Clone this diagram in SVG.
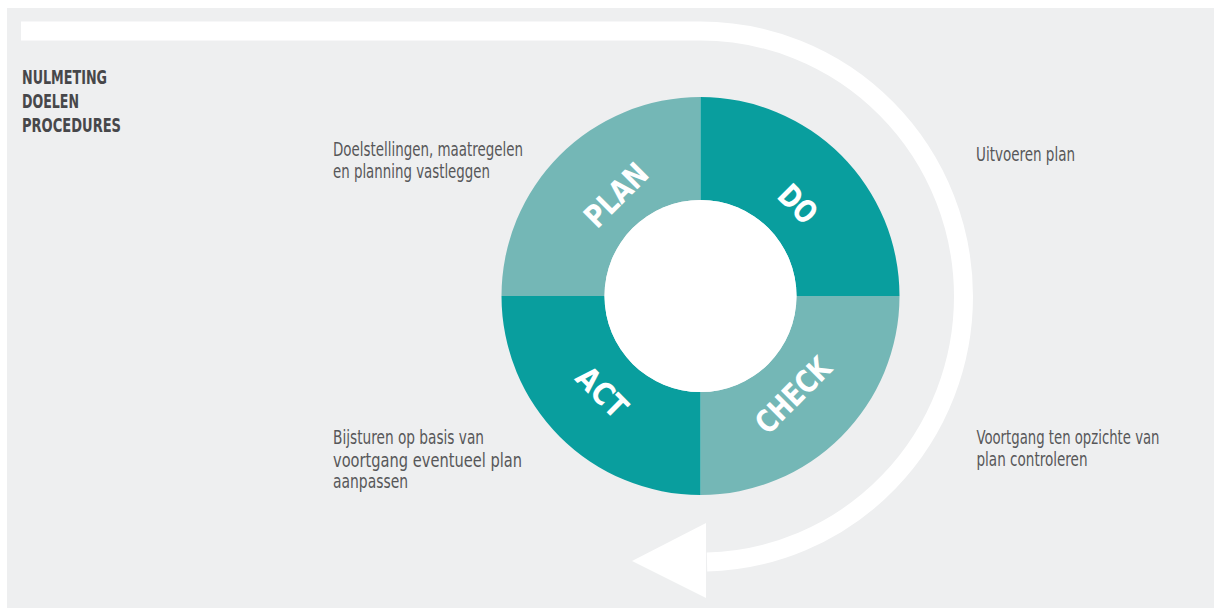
<svg xmlns="http://www.w3.org/2000/svg" width="1214" height="608" viewBox="0 0 1214 608">
  <style>
    .body { font-family: "Liberation Sans Narrow", "DejaVu Sans Condensed", "Liberation Sans", sans-serif; font-stretch: condensed; font-size: 19px; fill: #575759; }
    .head { font-family: "Liberation Sans Narrow", "DejaVu Sans Condensed", "Liberation Sans", sans-serif; font-stretch: condensed; font-size: 19px; font-weight: bold; fill: #47474a; }
    .ring { font-family: "Liberation Sans Narrow", "DejaVu Sans Condensed", "Liberation Sans", sans-serif; font-stretch: condensed; font-size: 31px; font-weight: bold; fill: #ffffff; text-anchor: middle; }
    .light { fill: #74b7b6; }
    .dark { fill: #099e9e; }
  </style>
  <rect x="0" y="0" width="1214" height="608" fill="#ffffff"/>
  <rect x="7" y="8" width="1207" height="600" fill="#eeeff0"/>

  <g id="connectors">
    <path d="M21,31 H700.5 A263,265.5 0 0 1 963.5,296.5 A263,265.5 0 0 1 707,562" fill="none" stroke="#ffffff" stroke-width="19"/>
    <polygon points="706,523 706,598 632,561" fill="#ffffff"/>
  </g>

  <g id="intro">
    <text class="head" x="22" y="83.5" textLength="85" lengthAdjust="spacingAndGlyphs">NULMETING</text>
    <text class="head" x="22" y="107.5" textLength="57" lengthAdjust="spacingAndGlyphs">DOELEN</text>
    <text class="head" x="22" y="131.5" textLength="99" lengthAdjust="spacingAndGlyphs">PROCEDURES</text>
  </g>

  <g id="plan">
    <path class="light" d="M700.5,97 V200 A96,96 0 0 0 604.5,296 H501.5 A199,199 0 0 1 700.5,97 Z"/>
    <g transform="translate(616,195) rotate(-45)">
      <text class="ring" x="0" y="11" textLength="76" lengthAdjust="spacingAndGlyphs">PLAN</text>
    </g>
    <text class="body" x="333" y="156" textLength="190" lengthAdjust="spacingAndGlyphs">Doelstellingen, maatregelen</text>
    <text class="body" x="333" y="177.5" textLength="157" lengthAdjust="spacingAndGlyphs">en planning vastleggen</text>
  </g>

  <g id="do">
    <path class="dark" d="M700.5,97 A199,199 0 0 1 899.5,296 H796.5 A96,96 0 0 0 700.5,200 Z"/>
    <g transform="translate(798,204) rotate(45)">
      <text class="ring" x="0" y="11" textLength="41" lengthAdjust="spacingAndGlyphs">DO</text>
    </g>
    <text class="body" x="976" y="160.5" textLength="99" lengthAdjust="spacingAndGlyphs">Uitvoeren plan</text>
  </g>

  <g id="check">
    <path class="light" d="M899.5,296 A199,199 0 0 1 700.5,495 V392 A96,96 0 0 0 796.5,296 Z"/>
    <g transform="translate(793,395) rotate(-45)">
      <text class="ring" x="0" y="11" textLength="93" lengthAdjust="spacingAndGlyphs">CHECK</text>
    </g>
    <text class="body" x="976.5" y="444" textLength="183" lengthAdjust="spacingAndGlyphs">Voortgang ten opzichte van</text>
    <text class="body" x="976.5" y="465.5" textLength="111" lengthAdjust="spacingAndGlyphs">plan controleren</text>
  </g>

  <g id="act">
    <path class="dark" d="M700.5,495 A199,199 0 0 1 501.5,296 H604.5 A96,96 0 0 0 700.5,392 Z"/>
    <g transform="translate(602,392) rotate(45)">
      <text class="ring" x="0" y="11" textLength="58" lengthAdjust="spacingAndGlyphs">ACT</text>
    </g>
    <text class="body" x="333" y="444" textLength="151" lengthAdjust="spacingAndGlyphs">Bijsturen op basis van</text>
    <text class="body" x="333" y="466.5" textLength="189" lengthAdjust="spacingAndGlyphs">voortgang eventueel plan</text>
    <text class="body" x="333" y="488" textLength="75" lengthAdjust="spacingAndGlyphs">aanpassen</text>
  </g>

  <circle id="hub" cx="700.5" cy="296" r="96" fill="#ffffff"/>
</svg>
